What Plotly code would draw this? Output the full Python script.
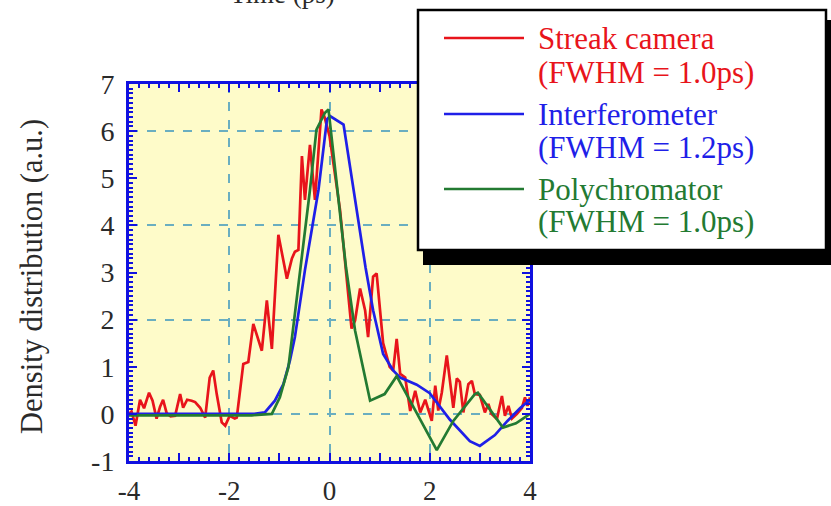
import plotly.graph_objects as go

# ---- data -------------------------------------------------------------
streak_t = [-4.0, -3.95, -3.87, -3.78, -3.70, -3.60, -3.53, -3.45, -3.38, -3.32,
            -3.25, -3.17, -3.08, -2.98, -2.92, -2.84, -2.75, -2.68, -2.58, -2.48,
            -2.39, -2.32, -2.25, -2.15, -2.08, -1.99, -1.89, -1.85, -1.72, -1.62,
            -1.52, -1.35, -1.25, -1.15, -1.02, -0.85, -0.75, -0.69, -0.62, -0.55,
            -0.49, -0.39, -0.29, -0.16, -0.10, 0.0, 0.21, 0.44, 0.51, 0.61,
            0.71, 0.77, 0.87, 0.94, 1.07, 1.20, 1.27, 1.34, 1.41, 1.51,
            1.61, 1.71, 1.81, 1.91, 2.04, 2.11, 2.17, 2.24, 2.34, 2.41,
            2.47, 2.54, 2.60, 2.67, 2.77, 2.84, 2.90, 3.00, 3.10, 3.17,
            3.23, 3.34, 3.44, 3.50, 3.57, 3.64, 3.74, 3.84, 3.90, 3.95, 4.0]
streak_v = [0.0, 0.05, -0.25, 0.30, 0.12, 0.45, 0.28, -0.10, 0.15, 0.30,
            0.02, -0.05, -0.04, 0.42, 0.13, 0.30, 0.28, 0.25, 0.13, -0.08,
            0.77, 0.92, 0.42, -0.18, -0.25, -0.04, -0.10, -0.08, 1.06, 1.10,
            1.91, 1.34, 2.41, 1.38, 3.80, 2.87, 3.30, 3.44, 3.48, 5.47,
            4.54, 5.71, 4.54, 6.46, 6.30, 5.90, 4.33, 1.81, 1.98, 2.66,
            2.20, 1.63, 2.91, 2.98, 1.50, 1.00, 0.92, 1.59, 0.85, 0.77,
            0.06, 0.49, 0.03, 0.30, -0.15, 0.60, 0.07, 0.45, 1.24, 0.63,
            0.13, 0.75, 0.68, 0.03, 0.63, 0.70, 0.42, 0.40, 0.03, 0.21,
            0.0, -0.11, 0.38, -0.04, 0.17, -0.10, 0.0, 0.13, 0.35, 0.17, 0.35]

interf_t = [-4.0, -1.5, -1.29, -1.09, -0.92, -0.79, -0.69, -0.49, -0.22, -0.05,
            0.01, 0.28, 0.72, 0.87, 1.07, 1.27, 1.41, 1.74, 2.0, 2.4,
            2.8, 3.0, 3.3, 3.55, 3.8, 4.0]
interf_v = [0.0, 0.0, 0.03, 0.28, 0.63, 1.13, 1.63, 3.05, 4.75, 6.25,
            6.32, 6.14, 3.10, 2.20, 1.27, 0.92, 0.77, 0.62, 0.44, -0.12,
            -0.58, -0.68, -0.45, -0.15, 0.12, 0.30]

poly_t = [-4.0, -1.55, -1.15, -0.99, -0.82, -0.72, -0.59, -0.39, -0.26, -0.09,
          -0.02, 0.33, 0.51, 0.81, 1.10, 1.34, 1.80, 2.14, 2.47, 2.90,
          2.96, 3.46, 3.72, 3.94, 4.0]
poly_v = [-0.03, -0.03, 0.0, 0.35, 0.99, 1.84, 3.05, 4.75, 6.03, 6.39,
          6.46, 3.10, 1.77, 0.28, 0.42, 0.80, -0.10, -0.77, -0.15, 0.42,
          0.45, -0.29, -0.20, -0.04, 0.0]

x_ticks = [-4, -3, -2, -1, 0, 1, 2, 3, 4]
x_labels = ["-4", "", "-2", "", "0", "", "2", "", "4"]
y_ticks = [-1, 0, 1, 2, 3, 4, 5, 6, 7]
y_labels = ["-1", "0", "1", "2", "3", "4", "5", "6", "7"]

series_names = ["Streak camera", "Interferometer", "Polychromator"]
fwhm_labels = ["(FWHM = 1.0ps)", "(FWHM = 1.2ps)", "(FWHM = 1.0ps)"]

# ---- style ------------------------------------------------------------
RED = "#E8141B"
BLUE = "#1F1FE8"
GREEN = "#237A32"
FRAME = "#1010E0"
GRID = "#6AAEC0"
TEXT = "#2a2a2a"
SERIF = "Liberation Serif, Times New Roman, serif"

W, H = 831, 506
L, R, T, B = 129, 530, 84, 461   # plot area in pixels


def px_x(p):
    return (p - L) / (R - L)


def px_y(p):
    return (B - p) / (B - T)


fig = go.Figure()
for t, v, c in [(streak_t, streak_v, RED), (interf_t, interf_v, BLUE),
                (poly_t, poly_v, GREEN)]:
    fig.add_trace(go.Scatter(x=t, y=v, mode="lines",
                             line=dict(color=c, width=2.7),
                             showlegend=False, hoverinfo="skip"))
# empty trace so the tick/frame axes get their own overlay subplot
fig.add_trace(go.Scatter(x=[None], y=[None], xaxis="x2", yaxis="y2",
                         showlegend=False, hoverinfo="skip"))

grid_axis = dict(showgrid=True, gridcolor=GRID, griddash="dash", gridwidth=2,
                 showticklabels=False, ticks="", zeroline=False, showline=False)
frame_axis = dict(showgrid=False, zeroline=False, showline=True, linecolor=FRAME,
                  linewidth=3, mirror="allticks", ticks="inside", ticklen=8,
                  tickwidth=2, tickcolor=FRAME)

fig.update_layout(
    width=W, height=H,
    margin=dict(l=L, r=W - R, t=T, b=H - B, autoexpand=False),
    paper_bgcolor="white", plot_bgcolor="#FEFBC9",
    xaxis=dict(range=[-4, 4], tick0=0, dtick=2, **grid_axis),
    yaxis=dict(range=[-1, 7], tick0=0, dtick=2, **grid_axis),
    xaxis2=dict(range=[-4, 4], overlaying="x", anchor="y2",
                tickmode="array", tickvals=x_ticks, ticktext=x_labels,
                ticklabelstandoff=4,
                tickfont=dict(family=SERIF, size=27, color=TEXT),
                minor=dict(dtick=0.2, ticks="inside", ticklen=4, tickwidth=1.5,
                           tickcolor=FRAME),
                **frame_axis),
    yaxis2=dict(range=[-1, 7], overlaying="y", anchor="x2",
                tickmode="array", tickvals=y_ticks, ticktext=y_labels,
                ticklabelstandoff=6,
                tickfont=dict(family=SERIF, size=28, color=TEXT),
                minor=dict(dtick=0.1, ticks="inside", ticklen=4, tickwidth=1.5,
                           tickcolor=FRAME),
                **frame_axis),
)

# axis titles
fig.add_annotation(text="Density distribution (a.u.)", textangle=-90,
                   xref="paper", yref="paper", x=px_x(32), y=px_y(277),
                   xanchor="center", yanchor="middle", showarrow=False,
                   font=dict(family=SERIF, size=30.5, color=TEXT))
fig.add_annotation(text="Time (ps)", xref="paper", yref="paper",
                   x=px_x(282), y=px_y(11), xanchor="center", yanchor="bottom",
                   showarrow=False,
                   font=dict(family=SERIF, size=27, color=TEXT))

# legend box with drop shadow
fig.add_shape(type="rect", xref="paper", yref="paper", layer="above",
              x0=px_x(423), x1=px_x(840), y0=px_y(265), y1=px_y(20),
              fillcolor="black", line=dict(width=0))
fig.add_shape(type="rect", xref="paper", yref="paper", layer="above",
              x0=px_x(418), x1=px_x(826), y0=px_y(250), y1=px_y(10),
              fillcolor="white", line=dict(color="black", width=2.5))

legend_rows = [(38, 72, RED), (114, 147, BLUE), (189, 221, GREEN)]
for (y1, y2, c), name, fw in zip(legend_rows, series_names, fwhm_labels):
    fig.add_shape(type="line", xref="paper", yref="paper", layer="above",
                  x0=px_x(444), x1=px_x(524), y0=px_y(y1), y1=px_y(y1),
                  line=dict(color=c, width=2.7))
    for yy, txt in [(y1, name), (y2, fw)]:
        fig.add_annotation(text=txt, xref="paper", yref="paper",
                           x=px_x(536), y=px_y(yy), xanchor="left",
                           yanchor="middle", showarrow=False,
                           font=dict(family=SERIF, size=31, color=c))

fig.write_html("out.html")
